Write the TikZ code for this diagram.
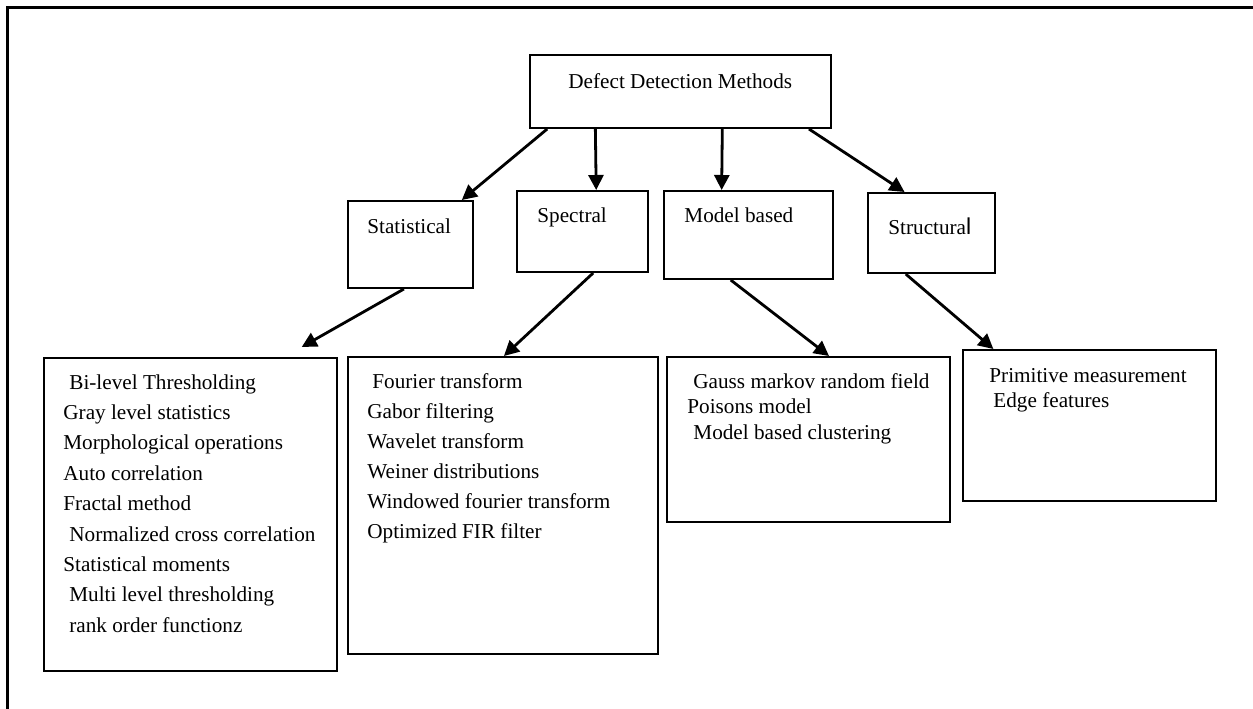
\documentclass[tikz,border=0pt]{standalone}
\usepackage{fontspec}
\setmainfont{Liberation Serif}
\setsansfont{Liberation Sans}
\usetikzlibrary{arrows.meta,calc}
\tikzset{
  box/.style={draw=black, line width=1pt, rectangle, anchor=north west, inner sep=0pt},
  lbl/.style={anchor=base west, inner sep=0pt, font=\fontsize{10.6pt}{12pt}\selectfont},
  conn/.style={line width=1.4pt, -{Triangle[length=7.5pt,width=7.5pt]}},
  frameline/.style={line width=1.5pt}
}
\begin{document}
\begin{tikzpicture}[x=0.5pt,y=-0.5pt]
\useasboundingbox (0,0) rectangle (1253,708);
\fill[white] (0,0) rectangle (1253,708);
\draw[frameline] (7,712) -- (7,7) -- (1258,7);

% boxes (width, height in px -> *0.5pt)
\node[box, minimum width=150.5pt, minimum height=36.5pt] (top) at (529,54) {};
\node[box, minimum width=62.5pt, minimum height=43.5pt] (stat) at (347,200) {};
\node[box, minimum width=65.5pt, minimum height=40.5pt] (spec) at (516,190) {};
\node[box, minimum width=84.5pt, minimum height=44pt] (model) at (663,190) {};
\node[box, minimum width=63.5pt, minimum height=40pt] (struc) at (867,192) {};
\node[box, minimum width=146.5pt, minimum height=156.5pt] (statl) at (43,357) {};
\node[box, minimum width=155pt, minimum height=148.5pt] (specl) at (347,356) {};
\node[box, minimum width=141.5pt, minimum height=82.5pt] (modell) at (666,356) {};
\node[box, minimum width=126.5pt, minimum height=75.5pt] (priml) at (962,349) {};

% titles
\node[lbl] (ttop) at (568,88) {Defect Detection Methods};
\node[lbl] (tstat) at (367,233) {Statistical};
\node[lbl] (tspec) at (537,222) {Spectral};
\node[lbl] (tmodel) at (684,222) {Model based};
\node[lbl] (tstruc) at (888,234) {Structura{\sffamily\fontsize{11.5pt}{12pt}\selectfont l}};

% statistical list
\node[lbl] (s1) at (69,389) {Bi-level Thresholding};
\node[lbl] (s2) at (63,419.4) {Gray level statistics};
\node[lbl] (s3) at (63,449.8) {Morphological operations};
\node[lbl] (s4) at (63,480.2) {Auto correlation};
\node[lbl] (s5) at (63,510.6) {Fractal method};
\node[lbl] (s6) at (69,541) {Normalized cross correlation};
\node[lbl] (s7) at (63,571.4) {Statistical moments};
\node[lbl] (s8) at (69,601.8) {Multi level thresholding};
\node[lbl] (s9) at (69,632.2) {rank order functionz};

% spectral list
\node[lbl] (p1) at (372,388) {Fourier transform};
\node[lbl] (p2) at (367,418) {Gabor filtering};
\node[lbl] (p3) at (367,448) {Wavelet transform};
\node[lbl] (p4) at (367,478) {Weiner distributions};
\node[lbl] (p5) at (367,508) {Windowed fourier transform};
\node[lbl] (p6) at (367,538) {Optimized FIR filter};

% model list
\node[lbl] (m1) at (693,388) {Gauss markov random field};
\node[lbl] (m2) at (687,413.5) {Poisons model};
\node[lbl] (m3) at (693,439) {Model based clustering};

% structural list
\node[lbl] (r1) at (989,382) {Primitive measurement};
\node[lbl] (r2) at (993,407) {Edge features};

% connectors
\draw[conn] ($(top.south west)!0.06!(top.south east)$) -- ($(stat.north west)!0.904!(stat.north east)$);
\draw[conn] ($(top.south west)!0.219!(top.south east)$) -- ($(spec.north west)!0.603!(spec.north east)$);
\draw[conn] ($(top.south west)!0.638!(top.south east)$) -- ($(model.north west)!0.343!(model.north east)$);
\draw[conn] ($(top.south west)!0.924!(top.south east)$) -- ($(struc.north west)!0.291!(struc.north east)$);
\draw[conn] ($(stat.south west)!0.448!(stat.south east)$) -- ($(statl.north west)!0.877!(statl.north east)+(0,-10)$);
\draw[conn] ($(spec.south west)!0.58!(spec.south east)$) -- ($(specl.north west)!0.503!(specl.north east)$);
\draw[conn] ($(model.south west)!0.396!(model.south east)$) -- ($(modell.north west)!0.572!(modell.north east)$);
\draw[conn] ($(struc.south west)!0.3!(struc.south east)$) -- ($(priml.north west)!0.123!(priml.north east)$);
\end{tikzpicture}
\end{document}
